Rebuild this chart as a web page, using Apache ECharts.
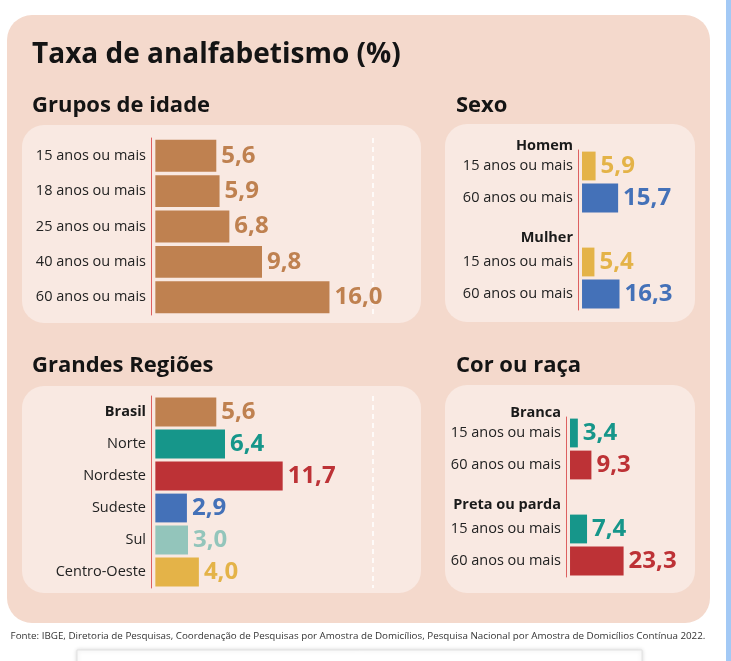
<!DOCTYPE html>
<html>
<head>
<meta charset="utf-8">
<script src="https://cdn.jsdelivr.net/npm/echarts@6/dist/echarts.min.js"></script>
<style>
  html, body { margin: 0; padding: 0; background: #fff; }
  #chart { width: 731px; height: 661px; }
</style>
</head>
<body>
<div id="chart"></div>
<script>
// dados
var idadeCats = ['15 anos ou mais', '18 anos ou mais', '25 anos ou mais', '40 anos ou mais', '60 anos ou mais'];
var idadeVals = [5.6, 5.9, 6.8, 9.8, 16.0];

var regiaoCats = ['Brasil', 'Norte', 'Nordeste', 'Sudeste', 'Sul', 'Centro-Oeste'];
var regiaoVals = [5.6, 6.4, 11.7, 2.9, 3.0, 4.0];

var faixas = ['15 anos ou mais', '60 anos ou mais'];
var sexoGrupos = ['Homem', 'Mulher'];
var homemVals = [5.9, 15.7];
var mulherVals = [5.4, 16.3];

var corGrupos = ['Branca', 'Preta ou parda'];
var brancaVals = [3.4, 9.3];
var pretaVals = [7.4, 23.3];

var MARROM = '#bf8150', VERDE = '#16968a', VERMELHO = '#bd3236',
    AZUL = '#4471b8', VERDE_CLARO = '#93c5bb', AMARELO = '#e4b348';
var regiaoCores = [MARROM, VERDE, VERMELHO, AZUL, VERDE_CLARO, AMARELO];

var FONTE = '"Open Sans", Lato, sans-serif';

function fmt(v) { return v.toFixed(1).replace('.', ','); }

function barItem(v, cor) {
  return { value: v, itemStyle: { color: cor }, label: { color: cor } };
}

// eixo de categorias com grupo: [15, 60, cabeçalho do 2º grupo, 15, 60]
function catsGrupo(grupos) {
  return [faixas[0], faixas[1],
    { value: grupos[1], textStyle: { fontWeight: 'bold', color: '#1a1a1a', verticalAlign: 'top' } },
    faixas[0], faixas[1]];
}
function valsGrupo(a, b, cores) {
  return [barItem(a[0], cores[0]), barItem(a[1], cores[1]), '-',
          barItem(b[0], cores[0]), barItem(b[1], cores[1])];
}

var chart = echarts.init(document.getElementById('chart'));

var catLabel = { color: '#222', fontSize: 14.5, fontFamily: FONTE, margin: 5 };
var valLabel = {
  show: true, position: 'right', distance: 5,
  fontSize: 24, fontWeight: 'bold', fontFamily: FONTE,
  formatter: function (p) { return fmt(p.value); }
};
var linhaVermelha = { show: true, onZero: false, lineStyle: { color: '#dd6060', width: 1 } };
var tracejado = {
  silent: true, symbol: 'none', label: { show: false }, z: 1,
  lineStyle: { color: '#ffffff', type: [5, 4], width: 1.5 },
  data: [{ xAxis: 20 }]
};

function yCat(idx, data, extra) {
  return Object.assign({
    type: 'category', gridIndex: idx, inverse: true, data: data,
    axisLine: linhaVermelha, axisTick: { show: false }, axisLabel: catLabel
  }, extra || {});
}
function xVal(idx, min, max) {
  return { type: 'value', gridIndex: idx, min: min, max: max, show: false, splitLine: { show: false } };
}
function cabecalho(nome) {
  return {
    name: nome, nameLocation: 'start', nameGap: 4,
    nameTextStyle: { align: 'right', verticalAlign: 'middle', padding: [0, 5, 0, 0],
      fontWeight: 'bold', color: '#1a1a1a', fontSize: 14.5, fontFamily: FONTE }
  };
}

function rect(x, y, w, h, r, fill) {
  return { type: 'rect', shape: { x: x, y: y, width: w, height: h, r: r }, style: { fill: fill }, silent: true };
}
function texto(t, x, y, size, weight) {
  return { type: 'text', x: x, y: y, silent: true,
    style: { text: t, fill: '#141414', font: weight + ' ' + size + 'px ' + FONTE, verticalAlign: 'middle' } };
}

var option = {
  backgroundColor: '#ffffff',
  animation: false,
  graphic: [
    rect(7, 15, 703, 608, 25, '#f4d9cc'),
    rect(22, 125, 399, 198, 22, '#f9e9e2'),
    rect(445, 124, 250, 198, 22, '#f9e9e2'),
    rect(22, 386, 399, 207, 22, '#f9e9e2'),
    rect(445, 385, 250, 208, 22, '#f9e9e2'),
    { type: 'rect', shape: { x: 77, y: 650, width: 565, height: 20 }, silent: true,
      style: { fill: '#fff', stroke: '#e2e2e2', lineWidth: 1, shadowBlur: 4, shadowColor: 'rgba(0,0,0,0.15)' } },
    rect(726, 0, 5, 661, 0, '#a3c9f5'),
    texto('Taxa de analfabetismo (%)', 32, 55, 28, 'bold'),
    texto('Grupos de idade', 32, 106, 22, 'bold'),
    texto('Sexo', 456, 106, 22, 'bold'),
    texto('Grandes Regiões', 32, 366, 22, 'bold'),
    texto('Cor ou raça', 456, 366, 22, 'bold'),
    { type: 'text', x: 358, y: 636, silent: true,
      style: { text: 'Fonte: IBGE, Diretoria de Pesquisas, Coordenação de Pesquisas por Amostra de Domicílios, Pesquisa Nacional por Amostra de Domicílios Contínua 2022.',
        fill: '#333', font: '9.8px ' + FONTE, align: 'center', verticalAlign: 'middle' } }
  ],
  grid: [
    { left: 151, top: 138, width: 222, height: 177 },
    { left: 151, top: 396, width: 222, height: 192 },
    { left: 578, top: 150, width: 73, height: 160 },
    { left: 566, top: 417, width: 73, height: 160 }
  ],
  xAxis: [xVal(0, -0.4, 20), xVal(1, -0.4, 20), xVal(2, -1.75, 30), xVal(3, -1.75, 30)],
  yAxis: [
    yCat(0, idadeCats),
    yCat(1, regiaoCats.map(function (c, i) {
      return i === 0 ? { value: c, textStyle: { fontWeight: 'bold', color: '#1a1a1a' } } : c;
    })),
    yCat(2, catsGrupo(sexoGrupos), cabecalho(sexoGrupos[0])),
    yCat(3, catsGrupo(corGrupos), cabecalho(corGrupos[0]))
  ],
  series: [
    { type: 'bar', xAxisIndex: 0, yAxisIndex: 0, barWidth: '90%', label: valLabel, markLine: tracejado,
      data: idadeVals.map(function (v) { return barItem(v, MARROM); }) },
    { type: 'bar', xAxisIndex: 1, yAxisIndex: 1, barWidth: '90%', label: valLabel, markLine: tracejado,
      data: regiaoVals.map(function (v, i) { return barItem(v, regiaoCores[i]); }) },
    { type: 'bar', xAxisIndex: 2, yAxisIndex: 2, barWidth: '90%', label: valLabel,
      data: valsGrupo(homemVals, mulherVals, [AMARELO, AZUL]) },
    { type: 'bar', xAxisIndex: 3, yAxisIndex: 3, barWidth: '90%', label: valLabel,
      data: valsGrupo(brancaVals, pretaVals, [VERDE, VERMELHO]) }
  ]
};

chart.setOption(option);
</script>
</body>
</html>
